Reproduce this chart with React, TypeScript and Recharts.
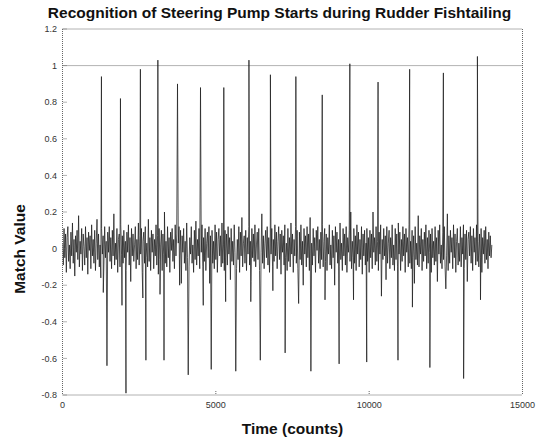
import React from "react";
import { LineChart, Line, XAxis, YAxis, ReferenceLine } from "recharts";

// background match noise, one sample every 25 counts from 0 to 14000
const noise = [
  0.03, -0.09, 0.11, -0.05, 0.08, -0.13, 0.06, 0.12, -0.07, 0.02, -0.11, 0.09, -0.04, 0.14, -0.08, 0.05, -0.15, 0.07, -0.02, 0.1,
  -0.06, 0.18, -0.1, 0.04, -0.03, 0.11, -0.12, 0.08, 0.01, -0.09, 0.12, -0.05, 0.06, -0.14, 0.09, -0.01, 0.07, -0.11, 0.13, -0.04,
  0.05, -0.08, 0.1, -0.12, 0.03, 0.16, -0.06, 0.08, -0.1, 0.02, -0.16, 0.11, -0.03, 0.07, -0.09, 0.12, -0.05, 0.04, -0.13, 0.09,
  -0.02, 0.12, -0.07, 0.06, -0.11, 0.1, -0.04, 0.19, -0.09, 0.03, -0.06, 0.11, -0.13, 0.05, 0.08, -0.1, 0.13, -0.03, 0.07, -0.08,
  0.1, -0.05, 0.04, -0.12, 0.09, -0.02, 0.13, -0.09, 0.06, -0.18, 0.11, -0.04, 0.08, -0.07, 0.02, 0.12, -0.11, 0.05, -0.06, 0.14,
  -0.09, 0.07, -0.03, 0.11, -0.13, 0.04, 0.09, -0.08, 0.12, -0.05, 0.03, -0.1, 0.16, -0.07, 0.06, -0.12, 0.1, -0.02, 0.08, -0.11,
  0.05, -0.04, 0.13, -0.09, 0.07, -0.14, 0.11, -0.06, 0.02, 0.1, -0.12, 0.08, -0.03, 0.2, -0.08, 0.04, -0.1, 0.12, -0.05, 0.06,
  -0.13, 0.09, -0.01, 0.11, -0.07, 0.05, -0.11, 0.13, -0.04, 0.08, -0.09, 0.03, 0.12, -0.06, 0.1, -0.19, 0.07, -0.02, 0.11, -0.08,
  0.04, -0.12, 0.14, -0.05, 0.09, -0.1, 0.06, -0.03, 0.12, -0.08, 0.02, -0.13, 0.1, -0.06, 0.15, -0.09, 0.05, -0.04, 0.11, -0.11,
  0.08, -0.02, 0.13, -0.1, 0.06, -0.07, 0.11, -0.12, 0.03, 0.09, -0.05, 0.12, -0.19, 0.07, -0.03, 0.1, -0.08, 0.04, -0.11, 0.13,
  -0.06, 0.09, -0.13, 0.05, 0.11, -0.04, 0.07, -0.1, 0.14, -0.08, 0.02, -0.12, 0.1, -0.05, 0.08, -0.09, 0.12, -0.03, 0.06, -0.17,
  0.11, -0.07, 0.04, -0.09, 0.13, -0.02, 0.08, -0.11, 0.05, -0.06, 0.12, -0.13, 0.09, -0.04, 0.17, -0.1, 0.03, 0.07, -0.08, 0.1,
  -0.12, 0.06, -0.03, 0.12, -0.09, 0.04, -0.18, 0.11, -0.05, 0.08, -0.07, 0.13, -0.1, 0.02, 0.09, -0.06, 0.11, -0.12, 0.05, -0.02,
  0.19, -0.08, 0.07, -0.11, 0.03, 0.1, -0.05, 0.12, -0.09, 0.06, -0.13, 0.08, -0.03, 0.11, -0.1, 0.05, -0.07, 0.13, -0.04, 0.09,
  -0.11, 0.04, 0.12, -0.06, 0.08, -0.14, 0.1, -0.02, 0.07, -0.09, 0.13, -0.05, 0.03, -0.12, 0.11, -0.07, 0.06, -0.1, 0.14, -0.03,
  0.08, -0.13, 0.05, -0.04, 0.12, -0.08, 0.1, -0.11, 0.02, 0.09, -0.06, 0.13, -0.09, 0.04, -0.2, 0.11, -0.03, 0.07, -0.1, 0.12,
  -0.05, 0.08, -0.12, 0.17, -0.07, 0.03, -0.09, 0.11, -0.04, 0.06, -0.13, 0.1, -0.01, 0.12, -0.08, 0.05, -0.11, 0.09, -0.06, 0.13,
  -0.1, 0.04, 0.11, -0.07, 0.08, -0.12, 0.06, -0.03, 0.13, -0.09, 0.02, -0.11, 0.1, -0.05, 0.07, -0.2, 0.12, -0.02, 0.09, -0.08,
  0.05, -0.1, 0.14, -0.06, 0.03, -0.12, 0.11, -0.04, 0.08, -0.09, 0.12, -0.13, 0.06, -0.02, 0.1, -0.07, 0.2, -0.11, 0.04, -0.05,
  0.11, -0.08, 0.07, -0.12, 0.13, -0.03, 0.09, -0.1, 0.05, -0.06, 0.12, -0.14, 0.08, -0.04, 0.1, -0.09, 0.03, 0.11, -0.07, 0.06,
  -0.13, 0.1, -0.05, 0.08, -0.11, 0.2, -0.02, 0.06, -0.09, 0.12, -0.07, 0.04, -0.12, 0.09, -0.03, 0.13, -0.1, 0.05, -0.06, 0.11,
  -0.04, 0.07, -0.17, 0.12, -0.08, 0.03, 0.1, -0.11, 0.06, -0.05, 0.13, -0.09, 0.02, -0.12, 0.11, -0.06, 0.08, -0.1, 0.14, -0.03,
  0.09, -0.12, 0.05, -0.07, 0.12, -0.04, 0.08, -0.13, 0.11, -0.02, 0.06, -0.1, 0.13, -0.08, 0.04, -0.11, 0.1, -0.05, 0.07, -0.19,
  0.12, -0.06, 0.03, -0.09, 0.18, -0.1, 0.07, -0.03, 0.11, -0.12, 0.05, -0.07, 0.09, -0.04, 0.13, -0.11, 0.06, -0.08, 0.1, -0.02,
  0.08, -0.13, 0.11, -0.05, 0.04, -0.09, 0.12, -0.07, 0.06, -0.18, 0.1, -0.03, 0.13, -0.08, 0.02, -0.11, 0.09, -0.06, 0.12, -0.1,
  0.05, -0.04, 0.19, -0.12, 0.07, -0.08, 0.1, -0.02, 0.06, -0.11, 0.13, -0.05, 0.08, -0.13, 0.04, 0.11, -0.09, 0.03, -0.07, 0.12,
  -0.1, 0.06, -0.03, 0.13, -0.11, 0.08, -0.06, 0.1, -0.18, 0.05, 0.09, -0.04, 0.12, -0.08, 0.07, -0.12, 0.11, -0.02, 0.06, -0.09,
  0.13, -0.07, 0.04, -0.1, 0.08, -0.05, 0.11, -0.13, 0.06, -0.03, 0.1, -0.08, 0.12, -0.06, 0.05, -0.11, 0.09, -0.04, 0.07, -0.05,
  0.02,
];
const noiseStep = 25;

// recognised pump starts (peaks)
const spikeTimes = [1270, 1890, 2540, 3110, 3750, 4500, 5260, 6080, 6780, 7610, 8470, 9370, 10290, 11320, 12420, 13530];
const spikePeaks = [0.94, 0.82, 0.98, 1.03, 0.9, 0.88, 0.88, 1.03, 0.95, 0.94, 0.84, 1.01, 0.91, 0.98, 0.96, 1.05];

// undershoot right after each peak
const reboundTimes = [1330, 1940, 2620, 3180, 3820, 4590, 5320, 6140, 6860, 7700, 8560, 9490, 10400, 11410, 12500, 13630];
const reboundValues = [-0.24, -0.31, -0.27, -0.25, -0.2, -0.31, -0.29, -0.29, -0.23, -0.3, -0.28, -0.28, -0.26, -0.32, -0.22, -0.28];

// deep negative matches
const dipTimes = [1450, 2070, 2720, 3310, 4100, 4850, 5650, 6450, 7260, 8100, 9020, 9920, 10940, 11980, 13080];
const dipValues = [-0.64, -0.79, -0.61, -0.61, -0.69, -0.66, -0.67, -0.61, -0.57, -0.67, -0.63, -0.62, -0.61, -0.65, -0.71];

const xTicks = [0, 5000, 10000, 15000];
const yTicks = [-0.8, -0.6, -0.4, -0.2, 0, 0.2, 0.4, 0.6, 0.8, 1, 1.2];

function buildSeries() {
  const pts = new Map<number, number>();
  noise.forEach((v, i) => pts.set(i * noiseStep, v));
  spikeTimes.forEach((t, i) => pts.set(t, spikePeaks[i]));
  reboundTimes.forEach((t, i) => pts.set(t, reboundValues[i]));
  dipTimes.forEach((t, i) => pts.set(t, dipValues[i]));
  return [...pts.entries()].sort((a, b) => a[0] - b[0]).map(([t, v]) => ({ t, v }));
}

const data = buildSeries();

const FONT = "'Liberation Sans', Arial, Helvetica, sans-serif";
const frame = { stroke: "#666", strokeDasharray: "1 1" };
const tickText = { fontSize: 9, fill: "#333", fontFamily: FONT };

const fmtY = (v: number) => String(Number(v.toFixed(1)));

export default function App() {
  return (
    <div style={{ position: "absolute", left: 0, top: 0, width: 540, height: 441, background: "#fff" }}>
      <LineChart width={540} height={441} data={data} margin={{ top: 28, right: 16.5, bottom: 26, left: 20 }}>
        <XAxis
          dataKey="t"
          type="number"
          domain={[0, 15000]}
          ticks={xTicks}
          allowDataOverflow
          height={20}
          axisLine={frame}
          tickLine={frame}
          tickSize={-4}
          tickMargin={10.7}
          tick={tickText}
          label={{
            content: () => (
              <text x={292.5} y={434} textAnchor="middle" fontSize={15.5} fontWeight="bold" fontFamily={FONT} fill="#111">
                Time (counts)
              </text>
            ),
          }}
        />
        <XAxis
          xAxisId="top"
          orientation="top"
          dataKey="t"
          type="number"
          domain={[0, 15000]}
          ticks={xTicks}
          allowDataOverflow
          height={1}
          axisLine={frame}
          tickLine={frame}
          tickSize={-4}
          tick={false}
          label={{
            content: () => (
              <text x={279.5} y={18.3} textAnchor="middle" fontSize={15.5} fontWeight="bold" fontFamily={FONT} fill="#111">
                Recognition of Steering Pump Starts during Rudder Fishtailing
              </text>
            ),
          }}
        />
        <YAxis
          type="number"
          domain={[-0.8, 1.2]}
          ticks={yTicks}
          allowDataOverflow
          width={42.5}
          axisLine={frame}
          tickLine={frame}
          tickSize={-4}
          tickMargin={9.5}
          tick={tickText}
          tickFormatter={fmtY}
          label={{
            content: () => (
              <text
                x={24.5}
                y={249}
                transform="rotate(-90 24.5 249)"
                textAnchor="middle"
                fontSize={15.5}
                fontWeight="bold"
                fontFamily={FONT}
                fill="#111"
              >
                Match Value
              </text>
            ),
          }}
        />
        <YAxis
          yAxisId="right"
          orientation="right"
          type="number"
          domain={[-0.8, 1.2]}
          ticks={yTicks}
          allowDataOverflow
          width={1}
          axisLine={frame}
          tickLine={frame}
          tickSize={-4}
          tick={false}
        />
        <ReferenceLine y={1} stroke="#666" strokeDasharray="1 1" />
        <Line
          dataKey="v"
          type="linear"
          dot={false}
          stroke="#1c1c1c"
          strokeWidth={0.75}
          isAnimationActive={false}
        />
      </LineChart>
    </div>
  );
}
